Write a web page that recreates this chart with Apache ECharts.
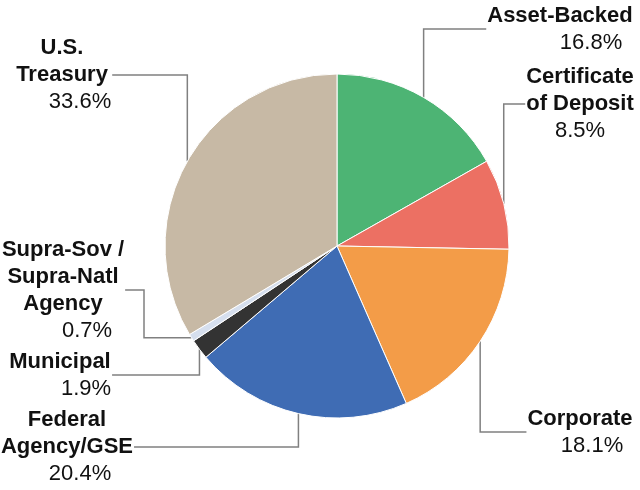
<!DOCTYPE html>
<html>
<head>
<meta charset="utf-8">
<script src="https://cdn.jsdelivr.net/npm/echarts@6/dist/echarts.min.js"></script>
<style>html,body{margin:0;padding:0;background:#fff;}#c{width:640px;height:490px;}</style>
</head>
<body>
<div id="c"></div>
<script>
var categories = ['Asset-Backed', 'Certificate\nof Deposit', 'Corporate', 'Federal\nAgency/GSE', 'Municipal', 'Supra-Sov /\nSupra-Natl\nAgency', 'U.S.\nTreasury'];
var values = [16.8, 8.5, 18.1, 20.4, 1.9, 0.7, 33.6];
var colors = ['#4DB474', '#EC7063', '#F39C48', '#3F6CB4', '#333333', '#D6DFEE', '#C7B9A5'];

// label layout (positions only)
var labelPos = [[560, 29], [580, 104], [580, 432], [67, 447], [60, 375], [63, 290], [62, 75]];
var pctOffset = [31, 0, 12, 13, 26, 24, 18];
var elbowX = [null, null, null, null, null, 144, null];

var chart = echarts.init(document.getElementById('c'), null, {renderer: 'canvas'});
var FONT = '"Liberation Sans", Arial, sans-serif';

var data = categories.map(function (name, i) {
  return {
    name: name,
    value: values[i],
    itemStyle: {color: colors[i]},
    label: {
      rich: {
        n: {fontFamily: FONT, fontSize: 22, fontWeight: 'bold', color: '#111', lineHeight: 27, align: 'center'},
        p: {fontFamily: FONT, fontSize: 22, color: '#111', lineHeight: 27, align: 'center', padding: [0, 0, 0, 2 * pctOffset[i]]}
      }
    }
  };
});

chart.setOption({
  animation: false,
  backgroundColor: '#fff',
  series: [{
    type: 'pie',
    center: [337, 246],
    radius: [0, 172],
    startAngle: 90,
    clockwise: true,
    avoidLabelOverlap: false,
    data: data,
    itemStyle: {borderColor: '#fff', borderWidth: 1},
    emphasis: {disabled: true},
    label: {
      show: true,
      position: 'outside',
      formatter: function (p) {
        var lines = p.name.split('\n').map(function (s) { return '{n|' + s + '}'; });
        lines.push('{p|' + p.value.toFixed(1) + '%}');
        return lines.join('\n');
      }
    },
    labelLine: {show: true, length: 10, length2: 10, lineStyle: {color: '#808080', width: 1.5}},
    labelLayout: function (params) {
      var i = params.dataIndex;
      var pos = labelPos[i];
      var w = params.labelRect.width;
      var a = params.labelLinePoints ? params.labelLinePoints[0] : [pos[0], pos[1]];
      var left = pos[0] < 337;
      var ex = left ? pos[0] + w / 2 + 1 : pos[0] - w / 2 - 1;
      var pts;
      if (elbowX[i] != null) {
        pts = [[ex, pos[1]], [elbowX[i], pos[1]], [elbowX[i], a[1]], [a[0], a[1]]];
      } else {
        pts = [[ex, pos[1]], [a[0], pos[1]], [a[0], a[1]]];
      }
      return {x: pos[0], y: pos[1], align: 'center', verticalAlign: 'middle', labelLinePoints: pts, hideOverlap: false};
    }
  }]
});
</script>
</body>
</html>
